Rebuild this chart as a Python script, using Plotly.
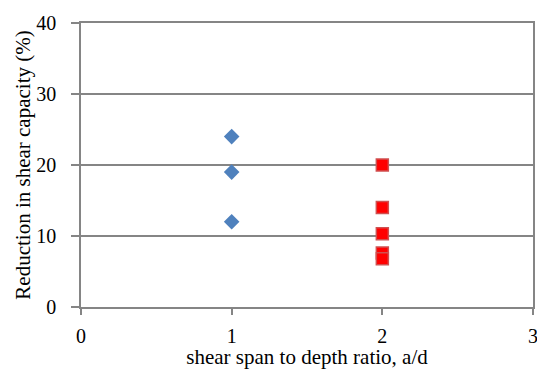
import plotly.graph_objects as go

# Reduction in shear capacity versus shear span to depth ratio
ad_group1 = [1, 1, 1]
reduction_group1 = [24, 19, 12]

ad_group2 = [2, 2, 2, 2, 2]
reduction_group2 = [20, 14, 10.3, 7.6, 6.8]

x_ticks = [0, 1, 2, 3]
y_ticks = [0, 10, 20, 30, 40]

font_family = "Liberation Serif"
axis_color = "#858585"
tick_font = dict(family=font_family, size=20, color="black")
title_font = dict(family=font_family, size=21, color="black")

fig = go.Figure()

fig.add_trace(go.Scatter(
    x=ad_group1, y=reduction_group1, mode="markers",
    marker=dict(symbol="diamond", size=12, color="#4F81BD",
                line=dict(width=0)),
    showlegend=False,
))

fig.add_trace(go.Scatter(
    x=ad_group2, y=reduction_group2, mode="markers",
    marker=dict(symbol="square", size=12, color="#FF0000",
                line=dict(width=1.5, color="#D05050")),
    showlegend=False,
))

fig.update_layout(
    width=537, height=369,
    margin=dict(l=81, r=4, t=23, b=62),
    paper_bgcolor="white", plot_bgcolor="white",
    font=dict(family=font_family, size=20, color="black"),
    xaxis=dict(
        range=[0, 3], tickvals=x_ticks, showgrid=False, zeroline=False,
        showline=True, linecolor=axis_color, linewidth=1.5, mirror=True,
        ticks="outside", ticklen=6, tickcolor=axis_color, tickwidth=1.5,
        ticklabelstandoff=4, ticklabeloverflow="allow", automargin=False,
        title=dict(text="shear span to depth ratio, a/d", standoff=3,
                   font=title_font),
        tickfont=tick_font,
    ),
    yaxis=dict(
        range=[0, 40], tickvals=y_ticks, showgrid=True,
        gridcolor=axis_color, gridwidth=1.5, zeroline=False,
        showline=True, linecolor=axis_color, linewidth=1.5, mirror=True,
        ticks="outside", ticklen=8, tickcolor=axis_color, tickwidth=1.5,
        ticklabelstandoff=11, ticklabeloverflow="allow", automargin=False,
        title=dict(text="Reduction in shear capacity (%)", standoff=0,
                   font=title_font),
        tickfont=tick_font,
    ),
)

fig.write_html("out.html")
